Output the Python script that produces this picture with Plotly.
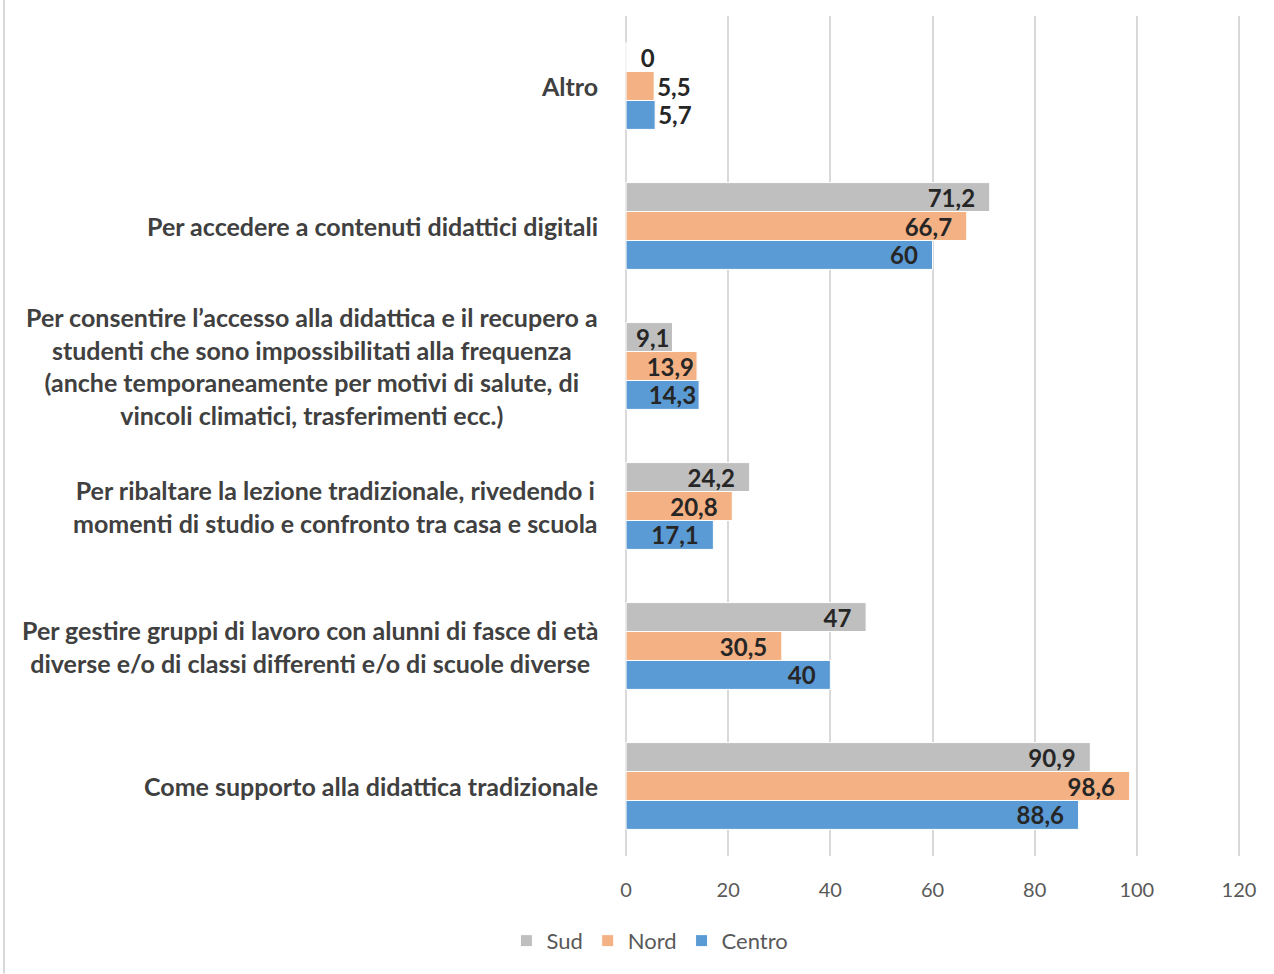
import plotly.graph_objects as go

# Categories listed bottom-to-top as they appear on the axis
categories = [
    "Come supporto alla didattica tradizionale",
    "Per gestire gruppi di lavoro con alunni di fasce di età<br>diverse e/o di classi differenti e/o di scuole diverse",
    "Per ribaltare la lezione tradizionale, rivedendo i<br>momenti di studio e confronto tra casa e scuola",
    "Per consentire l’accesso alla didattica e il recupero a<br>studenti che sono impossibilitati alla frequenza<br>(anche temporaneamente per motivi di salute, di<br>vincoli climatici, trasferimenti ecc.)",
    "Per accedere a contenuti didattici digitali",
    "Altro",
]

centro = [88.6, 40, 17.1, 14.3, 60, 5.7]
nord = [98.6, 30.5, 20.8, 13.9, 66.7, 5.5]
sud = [90.9, 47, 24.2, 9.1, 71.2, 0]

x_ticks = [0, 20, 40, 60, 80, 100, 120]

colors = {"Sud": "#BFBFBF", "Nord": "#F4B183", "Centro": "#5B9BD5"}

LABEL_FONT = "Lato, 'Open Sans', sans-serif"
PAD = "\u00a0" * 2


def fmt(v):
    return f"{v:g}".replace(".", ",")


def labels(values):
    texts, positions = [], []
    for v in values:
        if v < 8:
            texts.append(("\u00a0\u00a0" if v == 0 else "") + fmt(v))
            positions.append("outside")
        elif v < 16:
            texts.append(fmt(v))
            positions.append("inside")
        else:
            texts.append(fmt(v) + PAD)
            positions.append("inside")
    return texts, positions


fig = go.Figure()
for name, vals in [("Centro", centro), ("Nord", nord), ("Sud", sud)]:
    txt, pos = labels(vals)
    fig.add_trace(go.Bar(
        name=name,
        y=categories,
        x=vals,
        orientation="h",
        marker=dict(color=colors[name], line=dict(color="white", width=1)),
        text=txt,
        textposition=pos,
        insidetextanchor="end",
        constraintext="none",
        textfont=dict(family=LABEL_FONT, size=24, color="#262626", weight="bold"),
        cliponaxis=False,
        hoverinfo="skip",
    ))

# Category labels as centred multi-line annotations to the left of the plot
for cat in categories:
    fig.add_annotation(
        x=-0.0389, xref="paper", y=cat, yref="y",
        text=cat, showarrow=False,
        xanchor="right", yanchor="middle", align="center",
        font=dict(family=LABEL_FONT, size=25, color="#404040", weight="bold"),
    )

# Chart area border on the left
fig.add_shape(type="line", xref="paper", yref="paper",
              x0=-1.0049, x1=-1.0049, y0=-0.14, y1=1.02,
              line=dict(color="#D9D9D9", width=2))

fig.update_layout(
    width=1274, height=974,
    margin=dict(l=624, r=33, t=16, b=118),
    paper_bgcolor="white", plot_bgcolor="white",
    barmode="group", bargap=0.38, bargroupgap=0,
    showlegend=True,
    legend=dict(
        orientation="h", traceorder="reversed",
        x=0.042, xanchor="center", y=-0.101, yanchor="middle",
        font=dict(family=LABEL_FONT, size=22, color="#595959"),
        itemwidth=30,
    ),
    xaxis=dict(
        range=[-0.4, 120.4], tickvals=x_ticks,
        showgrid=True, gridcolor="#D9D9D9", gridwidth=2,
        zeroline=False, showline=False,
        tickfont=dict(family=LABEL_FONT, size=20, color="#595959"),
        ticklabelstandoff=20,
    ),
    yaxis=dict(
        categoryorder="array", categoryarray=categories,
        showticklabels=False, showgrid=False, zeroline=False, showline=False,
    ),
)

fig.write_html("out.html")
